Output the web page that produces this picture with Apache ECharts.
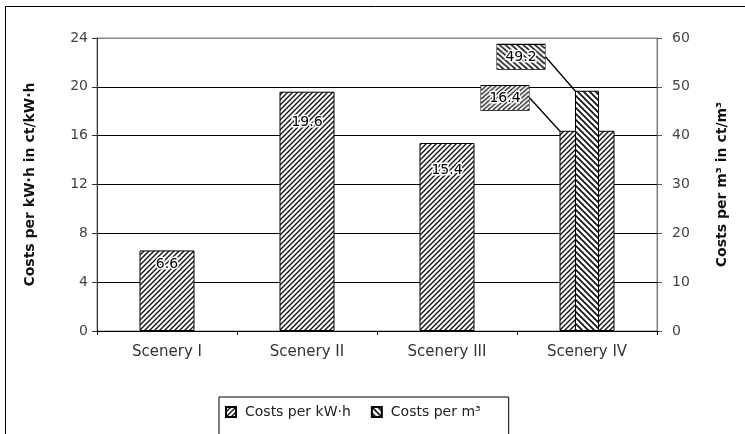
<!DOCTYPE html>
<html>
<head>
<meta charset="utf-8">
<script src="https://cdn.jsdelivr.net/npm/echarts@6/dist/echarts.min.js"></script>
<style>
  html, body { margin: 0; padding: 0; background: #fff; }
  #chart { width: 745px; height: 434px; }
</style>
</head>
<body>
<div id="chart"></div>
<script>
// Cost comparison of four sceneries: per kW·h (left axis) and per m³ (right axis)
const categories = ['Scenery I', 'Scenery II', 'Scenery III', 'Scenery IV'];
const costPerKwh = [6.6, 19.6, 15.4, 16.4];
const costPerM3 = ['-', '-', '-', 49.2];
const kwhAxis = { min: 0, max: 24, step: 4 };
const m3Axis = { min: 0, max: 60, step: 10 };
const seriesNames = ['Costs per kW·h', 'Costs per m³'];

const FONT = 'DejaVu Sans';

// Diagonal hatch fill drawn on a canvas; dir '/' or '\\'
function hatch(dir, step, lineWidth, w, h) {
  w = w || step; h = h || step;
  const c = document.createElement('canvas');
  c.width = w; c.height = h;
  const ctx = c.getContext('2d');
  ctx.fillStyle = '#fff';
  ctx.fillRect(0, 0, w, h);
  ctx.strokeStyle = '#111';
  ctx.lineWidth = lineWidth;
  ctx.lineCap = 'square';
  ctx.beginPath();
  if (dir === '/') {
    for (let k = -step; k <= w + h + step; k += step) {
      ctx.moveTo(k + 1, -1);
      ctx.lineTo(k - h - 1, h + 1);
    }
  } else {
    for (let k = -h - step; k <= w + step; k += step) {
      ctx.moveTo(k - 1, -1);
      ctx.lineTo(k + h + 1, h + 1);
    }
  }
  ctx.stroke();
  return c;
}

const kwhFill = { image: hatch('/', 5, 1.35), repeat: 'repeat' };
const m3Fill = { image: hatch('\\', 6, 1.7), repeat: 'repeat' };

// Value labels inside the bar tops; the last category gets a boxed callout
const insideDist = [7, 24, 20];
const calloutLabel = (dir) => ({
  show: true,
  position: 'top',
  distance: 5,
  padding: [6, 8, 4, 8],
  borderColor: '#000',
  borderWidth: 1.8,
  backgroundColor: { image: hatch(dir, dir === '/' ? 5 : 6, dir === '/' ? 1.35 : 1.7, 48, 28) },
  color: '#000',
  fontFamily: FONT,
  fontSize: 14,
  textBorderColor: '#fff',
  textBorderWidth: 3
});
const calloutLine = { show: true, lineStyle: { color: '#000', width: 1.3 } };

const kwhData = costPerKwh.map((v, i) => {
  if (i === 3) return { value: v, label: calloutLabel('/'), labelLine: calloutLine };
  return { value: v, label: { distance: insideDist[i] } };
});
const m3Data = costPerM3.map((v, i) => {
  if (v === '-') return v;
  return { value: v, label: calloutLabel('\\'), labelLine: calloutLine };
});

const kwhSplitColors = [];
for (let t = kwhAxis.min; t <= kwhAxis.max; t += kwhAxis.step) {
  kwhSplitColors.push(t === kwhAxis.max ? '#8a8a8a' : '#000');
}

const chart = echarts.init(document.getElementById('chart'), null, { renderer: 'canvas' });
chart.setOption({
  backgroundColor: '#fff',
  animation: false,
  textStyle: { fontFamily: FONT },
  graphic: [{
    type: 'rect',
    silent: true,
    z: -1,
    shape: { x: 5.5, y: 6.5, width: 800, height: 500 },
    style: { fill: 'none', stroke: '#000', lineWidth: 1 }
  }],
  grid: {
    left: 97, right: 88, top: 38, bottom: 103,
    show: true, borderColor: '#8a8a8a', borderWidth: 1, backgroundColor: 'transparent'
  },
  legend: {
    left: 219, top: 397,
    padding: [8, 28, 20, 6],
    borderColor: '#000', borderWidth: 1,
    itemWidth: 10, itemHeight: 10, itemGap: 20,
    icon: 'rect',
    textStyle: { fontFamily: FONT, fontSize: 14, color: '#222', padding: [0, 0, 0, 4] },
    data: seriesNames
  },
  xAxis: [{
    type: 'category',
    data: categories,
    axisLine: { lineStyle: { color: '#000', width: 1 } },
    axisTick: { show: true, length: 4, lineStyle: { color: '#000' } },
    axisLabel: { fontFamily: FONT, fontSize: 15, color: '#333', margin: 14 },
    splitLine: { show: false }
  }, {
    type: 'category',
    data: categories,
    show: false
  }],
  yAxis: [{
    type: 'value',
    min: kwhAxis.min, max: kwhAxis.max, interval: kwhAxis.step,
    name: 'Costs per kW·h in ct/kW·h',
    nameLocation: 'middle',
    nameGap: 60,
    nameTextStyle: { fontFamily: FONT, fontSize: 14, fontWeight: 'bold', color: '#111' },
    axisLine: { show: true, lineStyle: { color: '#333' } },
    axisTick: { show: true, length: 5, lineStyle: { color: '#333' } },
    axisLabel: { fontFamily: FONT, fontSize: 14, color: '#444', margin: 9 },
    splitLine: { show: true, lineStyle: { color: kwhSplitColors, width: 1 } }
  }, {
    type: 'value',
    position: 'right',
    min: m3Axis.min, max: m3Axis.max, interval: m3Axis.step,
    name: 'Costs per m³ in ct/m³',
    nameLocation: 'middle',
    nameGap: 58,
    nameTextStyle: { fontFamily: FONT, fontSize: 14, fontWeight: 'bold', color: '#111' },
    axisLine: { show: true, lineStyle: { color: '#777' } },
    axisTick: { show: true, length: 5, lineStyle: { color: '#555' } },
    axisLabel: { fontFamily: FONT, fontSize: 14, color: '#444', margin: 15 },
    splitLine: { show: false }
  }],
  series: [{
    name: seriesNames[0],
    type: 'bar',
    xAxisIndex: 0,
    yAxisIndex: 0,
    barWidth: 55,
    data: kwhData,
    itemStyle: { color: kwhFill, borderColor: '#000', borderWidth: 1 },
    label: {
      show: true,
      position: 'insideTop',
      color: '#000',
      fontFamily: FONT,
      fontSize: 14,
      textBorderColor: '#fff',
      textBorderWidth: 3
    },
    labelLayout: (p) => (p.dataIndex === 3 ? { dx: -82, dy: -16 } : {})
  }, {
    name: seriesNames[1],
    type: 'bar',
    xAxisIndex: 1,
    yAxisIndex: 1,
    barWidth: 24,
    data: m3Data,
    itemStyle: { color: m3Fill, borderColor: '#000', borderWidth: 1 },
    label: { show: true },
    labelLayout: (p) => (p.dataIndex === 3 ? { dx: -66, dy: -17 } : {})
  }]
});
</script>
</body>
</html>
